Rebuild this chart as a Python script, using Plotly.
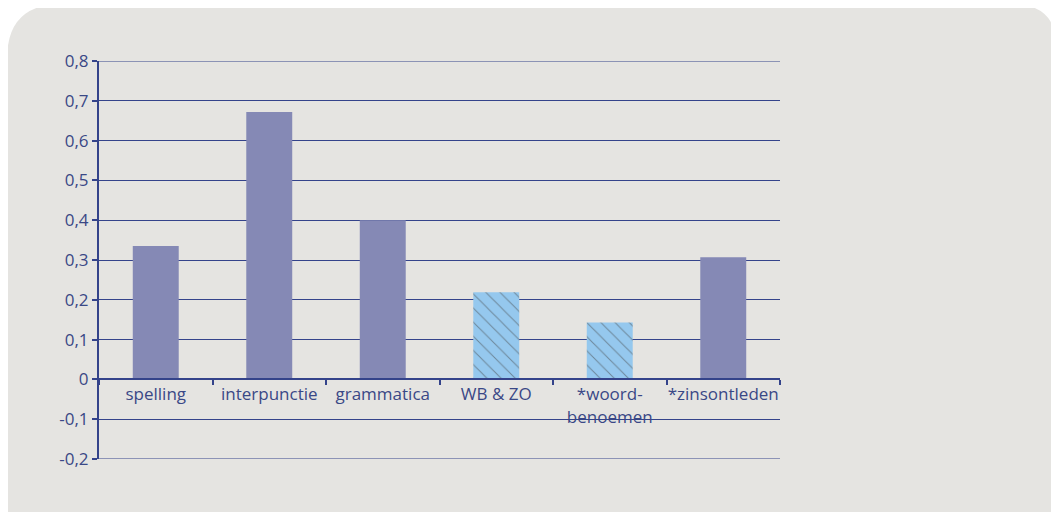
import plotly.graph_objects as go

categories = ["spelling", "interpunctie", "grammatica", "WB & ZO", "*woord-<br>benoemen", "*zinsontleden"]
values = [0.335, 0.672, 0.40, 0.219, 0.143, 0.307]
hatched = [False, False, False, True, True, False]
y_ticks = [-0.2, -0.1, 0, 0.1, 0.2, 0.3, 0.4, 0.5, 0.6, 0.7, 0.8]
y_labels = ["-0,2", "-0,1", "0", "0,1", "0,2", "0,3", "0,4", "0,5", "0,6", "0,7", "0,8"]

OFF = 8  # page body margin around the figure
W, H = 1059 - OFF, 512 - OFF
L, R, T, B = 99 - OFF, 780 - OFF, 61 - OFF, 459 - OFF  # plot area in pixels
INK = "#34438A"
TEXT = "#3A4886"


def px(x):
    return (x - OFF - L) / (R - L)


def py(y):
    return (B - (y - OFF)) / (B - T)


# rounded grey panel behind the chart (window pixel outline -> paper coords)
x0, x1, y0, y1 = 7, 1057, 4, 545
r_tl, r_tr, r_br = 55, 45, 35
panel = (
    f"M {px(x0)},{py(y1)} L {px(x0)},{py(y0 + r_tl)} "
    f"Q {px(x0)},{py(y0)} {px(x0 + r_tl)},{py(y0)} "
    f"L {px(x1 - r_tr)},{py(y0)} Q {px(x1)},{py(y0)} {px(x1)},{py(y0 + r_tr)} "
    f"L {px(x1)},{py(y1 - r_br)} Q {px(x1)},{py(y1)} {px(x1 - r_br)},{py(y1)} Z"
)

colors = ["#95C8EE" if h else "#8589B5" for h in hatched]
shapes = ["\\" if h else "" for h in hatched]

fig = go.Figure(go.Bar(
    x=categories, y=values,
    marker=dict(
        color=colors, line=dict(width=0),
        pattern=dict(shape=shapes, fillmode="overlay", fgcolor="#3E4D8C",
                     size=10, solidity=0.1),
    ),
))

# gridlines at the two range edges (plotly skips those)
edge_lines = [dict(type="line", xref="paper", yref="y", x0=0, x1=1, y0=v, y1=v,
                   line=dict(color=INK, width=1), layer="below")
              for v in (y_ticks[0], y_ticks[-1])]

fig.update_layout(
    width=W, height=H,
    margin=dict(l=L, r=W - R, t=T, b=H - B),
    paper_bgcolor="white", plot_bgcolor="rgba(0,0,0,0)",
    font=dict(family="Open Sans", size=17, color=TEXT),
    bargap=0.595, showlegend=False,
    shapes=[dict(type="path", path=panel, xref="paper", yref="paper",
                 fillcolor="#E5E4E1", line=dict(width=0), layer="below")] + edge_lines,
)
fig.update_xaxes(
    anchor="free", position=py(379), showline=True, linecolor=INK, linewidth=2,
    ticks="outside", tickson="boundaries", ticklen=5, tickwidth=2, tickcolor=INK,
    tickangle=0, showgrid=False, fixedrange=True,
)
fig.update_yaxes(
    range=[-0.2, 0.8], tickvals=y_ticks, ticktext=y_labels,
    showgrid=True, gridcolor=INK, gridwidth=1, zeroline=False,
    showline=True, linecolor=INK, linewidth=2,
    ticks="outside", ticklen=5, tickwidth=2, tickcolor=INK,
)

fig.write_html("out.html")
